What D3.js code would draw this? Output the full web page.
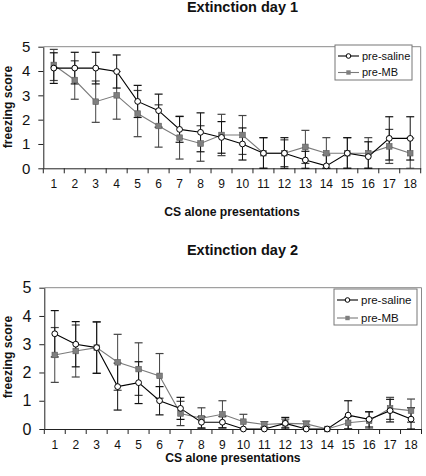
<!DOCTYPE html>
<html><head><meta charset="utf-8">
<script src="https://cdn.jsdelivr.net/npm/d3@7"></script>
<style>
body{margin:0;background:#fff;}
svg{display:block;font-family:"Liberation Sans",Arial,sans-serif;}
</style></head><body>
<svg id="chart" width="426" height="476"></svg>
<script>
const categories = ["1","2","3","4","5","6","7","8","9","10","11","12","13","14","15","16","17","18"];
const yTicks = [0,1,2,3,4,5];
const seriesNames = ["pre-saline","pre-MB"];

const day1Saline = [4.12,4.12,4.12,3.98,2.75,2.37,1.6,1.48,1.27,1.0,0.62,0.62,0.34,0.1,0.62,0.48,1.23,1.23];
const day1SalineErr = [0.63,0.65,0.65,0.68,0.66,0.68,0.53,0.8,0.65,0.66,0.64,0.64,0.36,0.45,0.64,0.61,0.89,0.89];
const day1MB = [4.25,3.63,2.74,3.0,2.25,1.74,1.26,1.02,1.37,1.37,0.62,0.62,0.88,0.62,0.62,0.62,0.9,0.62];
const day1MBErr = [0.64,0.79,0.85,0.98,0.95,0.87,0.88,0.73,0.85,0.8,0.64,0.55,0.68,0.64,0.64,0.64,0.7,0.62];

const day2Saline = [3.37,3.0,2.88,1.5,1.64,1.0,0.73,0.24,0.24,0,0,0.2,0,0,0.49,0.34,0.65,0.35];
const day2SalineErr = [0.82,0.8,0.91,0.83,0.74,0.5,0.39,0.2,0.2,0,0,0.21,0,0,0.51,0.27,0.4,0.4];
const day2MB = [2.62,2.76,2.88,2.36,2.12,1.88,0.55,0.38,0.52,0.26,0.16,0.2,0.18,0,0.22,0.29,0.73,0.65];
const day2MBErr = [0.97,0.92,0.91,0.99,0.93,0.79,0.43,0.37,0.48,0.26,0.1,0.15,0.1,0,0.22,0.32,0.39,0.41];

const titles = ["Extinction day 1","Extinction day 2"];
const xTitle = "CS alone presentations";
const yTitle = "freezing score";

const svg = d3.select("#chart");

function drawPanel(o){
  const x = d3.scaleBand().domain(categories).range([o.left,o.right]).padding(0);
  const y = d3.scaleLinear().domain([0,5]).range([o.bottom,o.top]);
  const g = svg.append("g");

  // frame (top & right)
  g.append("path").attr("d",`M${o.left},${o.top}H${o.right}V${o.bottom}`)
    .attr("fill","none").attr("stroke","#8a8a8a").attr("stroke-width",1);

  // y axis
  const ya = g.append("g").attr("transform",`translate(${o.left},0)`)
    .call(d3.axisLeft(y).tickValues(yTicks).tickFormat(d3.format("d")).tickSize(5).tickSizeOuter(0).tickPadding(o.yPad));
  ya.select(".domain").attr("stroke","#222");
  ya.selectAll(".tick line").attr("stroke","#222");
  ya.selectAll("text").attr("font-size",o.yFont).attr("fill","#111");

  // x axis
  const xa = g.append("g").attr("transform",`translate(0,${o.bottom})`)
    .call(d3.axisBottom(x).tickSize(0).tickSizeOuter(0).tickPadding(o.xPad));
  xa.select(".domain").attr("stroke","#222");
  xa.selectAll("text").attr("font-size",12).attr("fill","#111");
  const bounds = d3.range(categories.length+1).map(i => o.left + i*x.step());
  g.selectAll(".xt").data(bounds).enter().append("line")
    .attr("x1",d=>d).attr("x2",d=>d).attr("y1",o.bottom).attr("y2",o.bottom+5)
    .attr("stroke","#222");

  const series = [
    {vals:o.mb, err:o.mbErr, line:"#7a7a7a", bar:"#444", type:"sq"},
    {vals:o.sal, err:o.salErr, line:"#000", bar:"#111", type:"ci"}
  ];
  const cx = c => x(c) + x.bandwidth()/2;
  const cap = 4;
  series.forEach(s=>{
    const eg = g.append("g");
    categories.forEach((c,i)=>{
      const v = s.vals[i], e = s.err[i];
      if(e<=0) return;
      const hi = Math.min(5, v+e), lo = Math.max(0, v-e);
      eg.append("line").attr("x1",cx(c)).attr("x2",cx(c)).attr("y1",y(hi)).attr("y2",y(lo))
        .attr("stroke",s.bar).attr("stroke-width",1);
      [hi,lo].forEach(b=>{
        eg.append("line").attr("x1",cx(c)-cap).attr("x2",cx(c)+cap).attr("y1",y(b)).attr("y2",y(b))
          .attr("stroke",s.bar).attr("stroke-width",1.2);
      });
    });
  });
  series.forEach(s=>{
    const line = d3.line().x((d,i)=>cx(categories[i])).y(d=>y(d));
    g.append("path").datum(s.vals).attr("d",line).attr("fill","none")
      .attr("stroke",s.line).attr("stroke-width",1.1);
  });
  series.forEach(s=>{
    categories.forEach((c,i)=>{
      if(s.type==="sq"){
        g.append("rect").attr("x",cx(c)-2.8).attr("y",y(s.vals[i])-2.8).attr("width",5.6).attr("height",5.6)
          .attr("fill","#7f7f7f").attr("stroke","#5a5a5a").attr("stroke-width",0.6);
      } else {
        g.append("circle").attr("cx",cx(c)).attr("cy",y(s.vals[i])).attr("r",2.9)
          .attr("fill","#fff").attr("stroke","#000").attr("stroke-width",1);
      }
    });
  });

  // titles
  g.append("text").attr("x",o.titleX).attr("y",o.titleY).attr("text-anchor","middle")
    .attr("font-weight","bold").attr("font-size",14.5).attr("fill","#111").text(o.title);
  g.append("text").attr("x",(o.left+o.right)/2).attr("y",o.xTitleY).attr("text-anchor","middle")
    .attr("font-weight","bold").attr("font-size",12.2).attr("fill","#111").text(xTitle);
  g.append("text").attr("transform",`translate(11.5,${o.yTitleY}) rotate(-90)`).attr("text-anchor","middle")
    .attr("font-weight","bold").attr("font-size",12.2).attr("fill","#111").text(yTitle);

  // legend
  const L = o.legend;
  g.append("rect").attr("x",L.x).attr("y",L.y).attr("width",L.w).attr("height",L.h)
    .attr("fill","#fff").attr("stroke","#777").attr("stroke-width",1);
  const legItems = [
    {name:seriesNames[0], line:"#000", type:"ci"},
    {name:seriesNames[1], line:"#7a7a7a", type:"sq"}
  ];
  legItems.forEach((it,k)=>{
    const yy = L.y + L.rowY[k];
    const x0 = L.x+3, x1 = L.x+24, xm = (x0+x1)/2;
    g.append("line").attr("x1",x0).attr("x2",x1).attr("y1",yy).attr("y2",yy).attr("stroke",it.line).attr("stroke-width",1.1);
    if(it.type==="sq"){
      g.append("rect").attr("x",xm-2.2).attr("y",yy-2.2).attr("width",4.4).attr("height",4.4).attr("fill","#7f7f7f");
    } else {
      g.append("circle").attr("cx",xm).attr("cy",yy).attr("r",2.3).attr("fill","#fff").attr("stroke","#000");
    }
    g.append("text").attr("x",L.x+27).attr("y",yy).attr("dy","0.35em")
      .attr("font-size",L.font).attr("fill","#111").text(it.name);
  });
}

drawPanel({left:43.3,right:420.7,top:46.7,bottom:168.3,yFont:15,yPad:8,xPad:11,
  sal:day1Saline,salErr:day1SalineErr,mb:day1MB,mbErr:day1MBErr,
  title:titles[0],titleX:242.5,titleY:12,xTitleY:216,yTitleY:107,
  legend:{x:335,y:45,w:77,h:35,rowY:[11,27.5],font:11}});
drawPanel({left:44.3,right:421.5,top:287.7,bottom:429,yFont:16,yPad:8,xPad:11,
  sal:day2Saline,salErr:day2SalineErr,mb:day2MB,mbErr:day2MBErr,
  title:titles[1],titleX:242.5,titleY:255,xTitleY:462,yTitleY:357,
  legend:{x:334,y:289,w:83,h:36,rowY:[11,29],font:11.5}});
</script>
</body></html>
